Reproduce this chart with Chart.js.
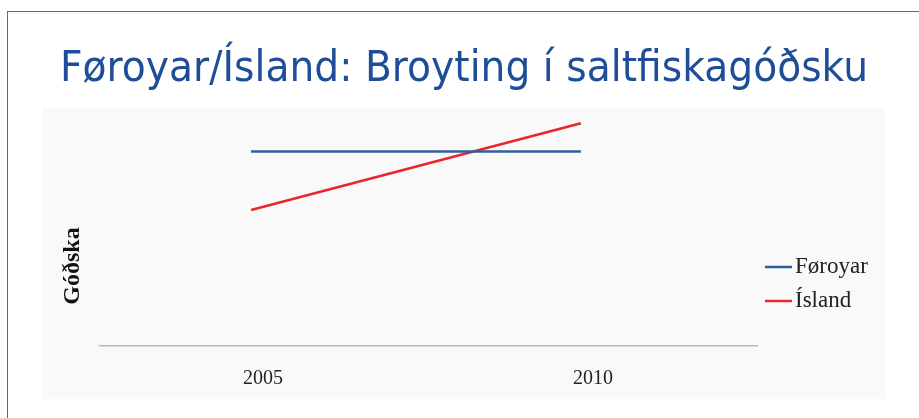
<!DOCTYPE html>
<html>
<head>
<meta charset="utf-8">
<title>Føroyar/Ísland</title>
<script src="https://cdn.jsdelivr.net/npm/chart.js@4.4.1/dist/chart.umd.min.js"></script>
<style>
    html, body { margin: 0; padding: 0; background: #fff; }
    body { width: 919px; height: 418px; position: relative; overflow: hidden; }
    #slide { position: absolute; left: 7px; top: 11px; width: 960px; height: 460px; border-left: 1px solid #6a6a6a; border-top: 1px solid #6a6a6a; }
    #panel { position: absolute; left: 42px; top: 108px; width: 843px; height: 291px; background: #f9f9f9; }
    #chart { position: absolute; left: 0; top: 0; }
</style>
</head>
<body>
<div id="slide"></div>
<div id="panel"></div>
<canvas id="chart" width="919" height="418"></canvas>
<script>
// Árini og virðini, lisin av myndini
const years = [2005, 2010];
const foroyar = [8.3, 8.3];
const island = [5.8, 9.5];
const seriesNames = ['Føroyar', 'Ísland'];
const seriesColors = ['#2f5e9e', '#e8262b'];

// Legend og y-heiti teknað við einum lítlum plugin
const sideLegend = {
    id: 'sideLegend',
    afterDraw(chart, args, opts) {
        const ctx = chart.ctx;
        ctx.save();
        chart.data.datasets.forEach((ds, i) => {
            const y = opts.top + i * opts.gap;
            ctx.strokeStyle = ds.borderColor;
            ctx.lineWidth = 2.5;
            ctx.beginPath();
            ctx.moveTo(opts.left, y);
            ctx.lineTo(opts.left + 27, y);
            ctx.stroke();
            ctx.fillStyle = '#222';
            ctx.font = '23px "Liberation Serif", serif';
            ctx.textBaseline = 'middle';
            ctx.textAlign = 'left';
            ctx.fillText(ds.label, opts.left + 30, y);
        });
        ctx.restore();
    }
};

const yTitle = {
    id: 'yTitle',
    afterDraw(chart, args, opts) {
        const ctx = chart.ctx;
        ctx.save();
        ctx.translate(opts.x, opts.y);
        ctx.rotate(-Math.PI / 2);
        ctx.fillStyle = '#111';
        ctx.font = 'bold 24px "Liberation Serif", serif';
        ctx.textAlign = 'center';
        ctx.textBaseline = 'middle';
        ctx.fillText(opts.text, 0, 0);
        ctx.restore();
    }
};

// ósjónlig ás, bara fyri at geva pláss
const blankAxis = (pos, w) => ({
    type: 'linear',
    position: pos,
    min: 0,
    max: 10,
    ticks: { display: false },
    grid: { display: false, drawTicks: false },
    border: { display: false },
    afterFit: s => { s.width = w; }
});

new Chart(document.getElementById('chart'), {
    type: 'line',
    data: {
        datasets: [{
            label: seriesNames[0],
            data: years.map((x, i) => ({ x: x, y: foroyar[i] })),
            borderColor: seriesColors[0],
            backgroundColor: seriesColors[0],
            borderWidth: 2.5,
            pointRadius: 0,
            tension: 0
        }, {
            label: seriesNames[1],
            data: years.map((x, i) => ({ x: x, y: island[i] })),
            borderColor: seriesColors[1],
            backgroundColor: seriesColors[1],
            borderWidth: 2.5,
            pointRadius: 0,
            tension: 0
        }]
    },
    options: {
        responsive: false,
        animation: false,
        layout: { padding: { left: 60, right: 51, top: 0, bottom: 6 } },
        scales: {
            x: {
                type: 'linear',
                min: 2002.71,
                max: 2012.67,
                afterBuildTicks: axis => { axis.ticks = years.map(v => ({ value: v })); },
                grid: { display: false, drawTicks: false },
                border: { display: true, color: '#b8b8b8', width: 1.5 },
                ticks: {
                    callback: v => String(v),
                    labelOffset: 12,
                    padding: 21,
                    color: '#222',
                    font: { family: '"Liberation Serif", serif', size: 20 }
                }
            },
            y: blankAxis('left', 40),
            y2: blankAxis('right', 111)
        },
        plugins: {
            legend: { display: false },
            tooltip: { enabled: false },
            title: {
                display: true,
                text: 'Føroyar/Ísland: Broyting í saltfiskagóðsku',
                color: '#1f4e99',
                font: { family: '"DejaVu Sans", sans-serif', size: 43, weight: 'normal' },
                padding: { top: 44, bottom: 16 }
            },
            sideLegend: { left: 765, top: 267, gap: 34 },
            yTitle: { x: 73, y: 266, text: 'Góðska' }
        }
    },
    plugins: [sideLegend, yTitle]
});
</script>
</body>
</html>
